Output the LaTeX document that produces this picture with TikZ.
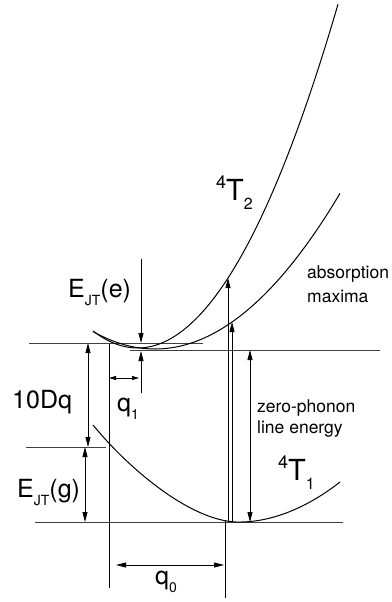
\documentclass[tikz,border=0pt]{standalone}
\usepackage{fontspec}
\setmainfont{TeX Gyre Heros}
\usetikzlibrary{arrows.meta}

% subindices y superindices de las etiquetas
\newcommand{\sbj}[1]{\raisebox{-8pt}{\fontsize{14}{14}\selectfont #1}}
\newcommand{\spt}[1]{\raisebox{12pt}{\fontsize{18}{18}\selectfont #1}}
\newcommand{\sbt}[1]{\raisebox{-9pt}{\fontsize{16}{16}\selectfont #1}}

\begin{document}
\begin{tikzpicture}[x=1pt,y=-1pt,
  nivel/.style={black!75, line width=0.8pt},
  guia/.style={black, line width=0.8pt},
  curva/.style={black, line width=1pt},
  flecha/.style={black, line width=0.8pt, -{Triangle[length=10pt,width=5pt]}},
  dflecha/.style={black, line width=0.8pt, {Triangle[length=10pt,width=5pt]}-{Triangle[length=10pt,width=5pt]}},
  dcorta/.style={black, line width=0.8pt, {Triangle[length=7pt,width=4pt]}-{Triangle[length=7pt,width=4pt]}},
  grande/.style={inner sep=0pt, anchor=base west, font=\fontsize{25}{29}\selectfont},
  termino/.style={inner sep=0pt, anchor=base west, font=\fontsize{29}{32}\selectfont},
  nota/.style={inner sep=0pt, anchor=north west, align=left}]
\useasboundingbox (0,0) rectangle (391,602);

% Niveles de energia
\draw[nivel] (29,343) -- (203,343);
\draw[nivel] (130,350) -- (380,350);
\draw[nivel] (26,447) -- (106,447);
\draw[nivel] (35,522) -- (343,522);
% Lineas verticales de q0 y q1
\draw[guia] (109,344) -- (109,588);
\draw[guia] (225,521) -- (225,598);

% Parabolas del estado excitado (4T2)
\draw[curva] plot[domain=93:338, samples=80]
  (\x, {348 - 0.008566*(\x-137.6)*(\x-137.6)});
\draw[curva] plot[domain=93:340, samples=80]
  (\x, {349 - 0.004554*(\x-155)*(\x-155)});
% Parabola del estado fundamental (4T1)
\draw[curva] (93,425) .. controls (130,470) and (190,520) .. (236,522)
  .. controls (275,523) and (312,504) .. (340,482);

% Extremos de las flechas
\coordinate (dqA) at (88,343);   \coordinate (dqB) at (88,447);
\coordinate (egA) at (85,447);   \coordinate (egB) at (85,522);
\coordinate (eeA) at (141,259);  \coordinate (eeB) at (141,343);
\coordinate (eeC) at (141,393);  \coordinate (eeD) at (141,351);
\coordinate (qaA) at (109,378);  \coordinate (qaB) at (139,378);
\coordinate (qbA) at (116,565);  \coordinate (qbB) at (224,565);
\coordinate (abA) at (228,522);  \coordinate (abB) at (228,278);
\coordinate (acA) at (232,522);  \coordinate (acB) at (232,322);
\coordinate (zfA) at (250,350);  \coordinate (zfB) at (250,522);

% Flechas
\draw[dflecha] (dqA) -- (dqB);
\draw[dflecha] (egA) -- (egB);
\draw[flecha] (eeA) -- (eeB);
\draw[flecha] (eeC) -- (eeD);
\draw[dcorta] (qaA) -- (qaB);
\draw[dflecha] (qbA) -- (qbB);
\draw[flecha] (abA) -- (abB);
\draw[flecha] (acA) -- (acB);
\draw[dflecha] (zfA) -- (zfB);

% Etiquetas
\node[termino] (tdos) at (216,200) {\spt{4}T\sbt{2}};
\node[termino] (tuno) at (278,480) {\spt{4}T\sbt{1}};
\node[grande] (ejte) at (68,297) {E\sbj{JT}(e)};
\node[grande] (ejtg) at (17,497) {E\sbj{JT}(g)};
\node[grande] (dq) at (12,408) {10Dq};
\node[grande] (quno) at (117,411) {q\sbj{1}};
\node[grande] (qcero) at (155,584) {q\sbj{0}};
\node[nota, font=\fontsize{17.5}{24}\selectfont] (abs) at (307,266) {absorption\\maxima};
\node[nota, font=\fontsize{17.5}{21}\selectfont] (zpl) at (257,400) {zero-phonon\\line energy};
\end{tikzpicture}
\end{document}
